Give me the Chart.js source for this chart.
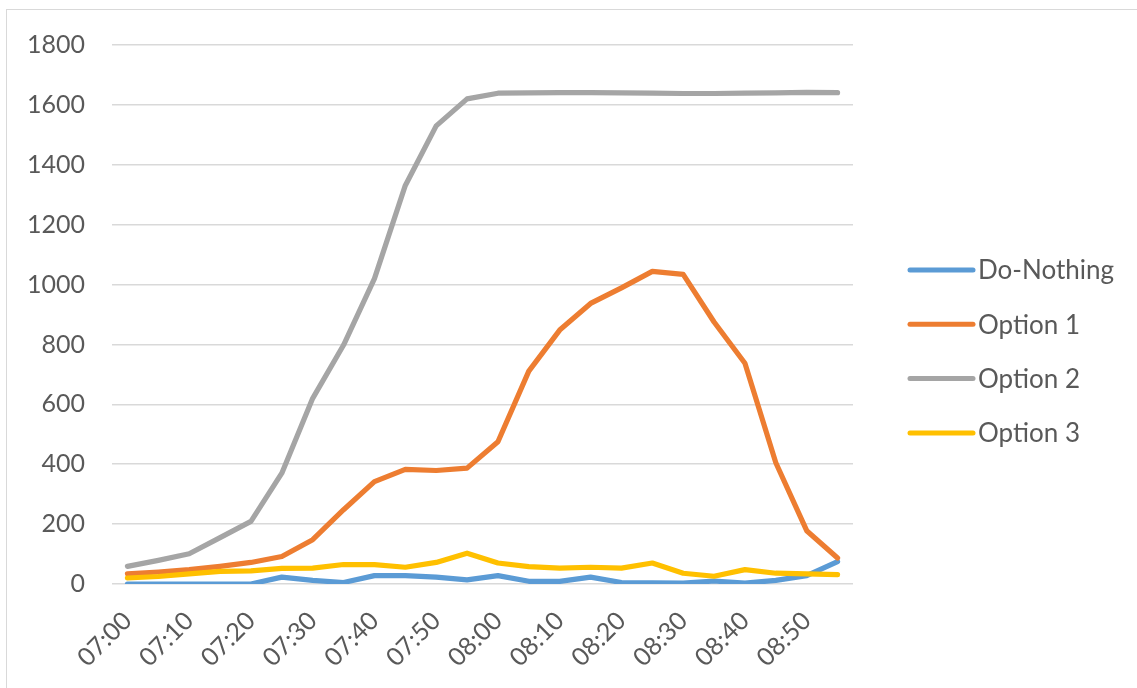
<!DOCTYPE html>
<html>
<head>
<meta charset="utf-8">
<script src="https://cdn.jsdelivr.net/npm/chart.js@4.4.1/dist/chart.umd.min.js"></script>
<style>
  html, body { margin: 0; padding: 0; background: #ffffff; overflow: hidden; }
  #wrap { position: absolute; left: 0; top: 0; width: 1137px; height: 688px; }
  #frame { position: absolute; left: 6px; top: 9px; width: 1300px; height: 900px; border: 1.5px solid #d9d9d9; box-sizing: border-box; }
  canvas { position: absolute; left: 0; top: 0; }
</style>
</head>
<body>
<div id="wrap">
  <div id="frame"></div>
  <canvas id="c" width="1137" height="688"></canvas>
</div>
<script>
// Categories: every 5 minutes, labelled every 10 minutes
const categories = ["07:00","07:05","07:10","07:15","07:20","07:25","07:30","07:35","07:40","07:45","07:50","07:55",
                    "08:00","08:05","08:10","08:15","08:20","08:25","08:30","08:35","08:40","08:45","08:50","08:55"];
const seriesNames = ["Do-Nothing", "Option 1", "Option 2", "Option 3"];
const doNothing = [0, 0, 0, 0, 0, 23, 12, 5, 28, 28, 23, 14, 28, 9, 9, 23, 5, 4, 3, 10, 3, 12, 28, 75];
const option1   = [34, 40, 48, 59, 72, 92, 148, 248, 342, 383, 379, 387, 475, 711, 848, 937, 989, 1044, 1034, 875, 737, 405, 178, 87];
const option2   = [59, 79, 101, 155, 209, 370, 620, 798, 1020, 1331, 1530, 1620, 1639, 1640, 1641, 1641, 1640, 1639, 1638, 1638, 1639, 1640, 1642, 1641];
const option3   = [20, 25, 34, 42, 44, 52, 53, 65, 65, 56, 72, 103, 70, 58, 53, 56, 53, 70, 36, 26, 48, 36, 34, 31];
const yTicks = [0, 200, 400, 600, 800, 1000, 1200, 1400, 1600, 1800];
const colors = ["#5B9BD5", "#ED7D31", "#A5A5A5", "#FFC000"];

const FONT = "Lato, Calibri, Carlito, 'Liberation Sans', sans-serif";
const TEXT = "#595959";

const seriesValues = [doNothing, option1, option2, option3];
const datasets = seriesValues.map((vals, i) => ({
  label: seriesNames[i],
  data: vals,
  borderColor: colors[i],
  backgroundColor: colors[i],
  borderWidth: 5.2,
  pointRadius: 0,
  pointHoverRadius: 0,
  tension: 0,
  fill: false,
  borderJoinStyle: "round",
  borderCapStyle: "round",
  order: seriesValues.length - i
}));

const sideLegend = {
  id: "sideLegend",
  afterDraw(chart) {
    const ctx = chart.ctx;
    const area = chart.chartArea;
    const x0 = area.right + 57;
    const lineLen = 63;
    const startY = 270;
    const step = 54.3;
    ctx.save();
    ctx.font = "26px " + FONT;
    ctx.textBaseline = "middle";
    ctx.textAlign = "left";
    chart.data.datasets.forEach((ds, i) => {
      const y = startY + i * step;
      ctx.beginPath();
      ctx.strokeStyle = ds.borderColor;
      ctx.lineWidth = 5;
      ctx.lineCap = "round";
      ctx.moveTo(x0, y);
      ctx.lineTo(x0 + lineLen, y);
      ctx.stroke();
      ctx.fillStyle = TEXT;
      ctx.fillText(ds.label, x0 + lineLen + 5, y + 1);
    });
    ctx.restore();
  }
};

new Chart(document.getElementById("c"), {
  type: "line",
  data: { labels: categories, datasets: datasets },
  plugins: [sideLegend],
  options: {
    responsive: false,
    animation: false,
    devicePixelRatio: 1,
    layout: { padding: { left: 28, right: 284, top: 45, bottom: 0 } },
    plugins: { legend: { display: false }, tooltip: { enabled: false } },
    scales: {
      x: {
        type: "category",
        offset: true,
        grid: { display: false, drawTicks: false },
        border: { display: false },
        afterFit(scale) { scale.height = 104; },
        ticks: {
          autoSkip: false,
          minRotation: 45,
          maxRotation: 45,
          padding: 22,
          color: TEXT,
          font: { family: FONT, size: 25 },
          callback(value, index) { return index % 2 === 0 ? categories[index] : ""; }
        }
      },
      y: {
        min: 0,
        max: 1800,
        afterBuildTicks(scale) { scale.ticks = yTicks.map(v => ({ value: v })); },
        afterFit(scale) { scale.width = 84; },
        grid: { color: "#d9d9d9", lineWidth: 1.5, drawTicks: false },
        border: { display: false },
        ticks: {
          padding: 27,
          color: TEXT,
          font: { family: FONT, size: 25 },
          callback(value) { return String(value); }
        }
      }
    }
  }
});
</script>
</body>
</html>
